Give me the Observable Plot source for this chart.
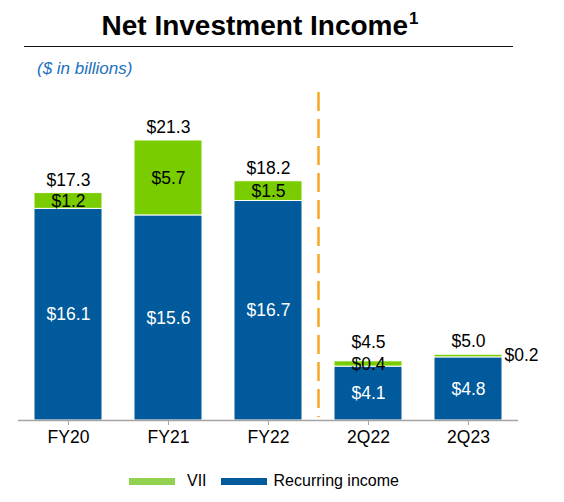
<!DOCTYPE html>
<html>
<head>
<meta charset="utf-8">
<script src="https://cdn.jsdelivr.net/npm/d3@7"></script>
<script src="https://cdn.jsdelivr.net/npm/@observablehq/plot@0.6"></script>
<style>
  body { margin: 0; background: white; font-family: "Liberation Sans", Arial, sans-serif; }
  #wrap { position: relative; width: 564px; height: 502px; }
  #titulo { position: absolute; left: 0; top: 12px; width: 520px; text-align: center;
            font-size: 28px; line-height: 28px; font-weight: bold; color: #000; }
  #titulo span { font-size: 17px; position: relative; top: -11px; margin-left: 1px; }
  #raya { position: absolute; left: 24px; top: 46px; width: 489px; border-top: 1.5px solid #111; }
  #sub { position: absolute; left: 37px; top: 60px; font-size: 17px; line-height: 17px;
         font-style: italic; color: #1b70bd; }
  #grafico { position: absolute; left: 0; top: 80px; }
  #leyenda { position: absolute; left: 129px; top: 472px; height: 18px; display: flex;
             align-items: center; font-size: 16px; color: #000; }
  .sw { width: 46px; height: 7px; display: inline-block; }
</style>
</head>
<body>
<div id="wrap">
  <div id="titulo">Net Investment Income<span>1</span></div>
  <div id="raya"></div>
  <div id="sub">($ in billions)</div>
  <div id="grafico"></div>
  <div id="leyenda">
    <span class="sw" style="background:#92d050"></span><span style="margin-left:12px">VII</span>
    <span class="sw" style="background:#005a9b;margin-left:14px"></span><span style="margin-left:7px">Recurring income</span>
  </div>
</div>
<script>
// datos (en miles de millones)
const categorias = ["FY20", "FY21", "FY22", "2Q22", "2Q23"]
const recurrente = [16.1, 15.6, 16.7, 4.1, 4.8]
const vii = [1.2, 5.7, 1.5, 0.4, 0.2]
const totales = [17.3, 21.3, 18.2, 4.5, 5.0]
const series = ["Recurring income", "VII"]

// tabla larga para apilar: primero recurrente (abajo), despues VII (arriba)
const filas = categorias.flatMap((c, i) => [
  {cat: c, serie: series[0], valor: recurrente[i]},
  {cat: c, serie: series[1], valor: vii[i]}
])
const tot = categorias.map((c, i) => ({cat: c, valor: totales[i]}))

const fmt = v => "$" + v.toFixed(1)
const fuente = "Liberation Sans, Arial, sans-serif"

let grafico = Plot.plot({
  width: 564,
  height: 380,
  marginTop: 60,
  marginBottom: 40,
  marginLeft: 18,
  marginRight: 46,
  style: {fontFamily: fuente, background: "transparent"},
  x: {domain: categorias, paddingInner: 0.32, paddingOuter: 0.16},
  y: {domain: [0, 21.3], axis: null},
  color: {domain: series, range: ["#005a9b", "#78cc00"]},
  marks: [
    Plot.barY(filas, {x: "cat", y: "valor", fill: "serie", stroke: "white", strokeWidth: 1}),
    Plot.ruleY([0], {stroke: "#a5a5a5", strokeWidth: 1.5}),
    Plot.axisX({tickSize: 5, tickPadding: 5, fontSize: 17.5, stroke: "#a5a5a5", fill: "black", label: null}),
    // linea punteada que separa anuales de trimestrales
    Plot.ruleX(["FY22"], {x: d => d, dx: 50, stroke: "#f7a823", strokeWidth: 2.5,
      strokeDasharray: "19 8", insetTop: -48, insetBottom: 3}),
    // etiquetas dentro de las barras azules
    Plot.text(filas, Plot.filter(d => d.serie === series[0],
      Plot.stackY({x: "cat", y: "valor", z: "serie", text: d => fmt(d.valor), fill: "white", fontSize: 17.5}))),
    // etiquetas VII dentro de la barra verde
    Plot.text(filas, Plot.filter(d => d.serie === series[1] && d.valor >= 0.3,
      Plot.stackY({x: "cat", y: "valor", z: "serie", text: d => fmt(d.valor), fill: "black", fontSize: 17.5}))),
    // VII muy chico: al costado
    Plot.text(filas, Plot.filter(d => d.serie === series[1] && d.valor < 0.3,
      Plot.stackY2({x: "cat", y: "valor", z: "serie", text: d => fmt(d.valor), fill: "black", fontSize: 17.5,
        textAnchor: "start", dx: 36, dy: 1}))),
    // totales arriba
    Plot.text(tot, {x: "cat", y: "valor", text: d => fmt(d.valor), fill: "black", fontSize: 17.5,
      dy: -13, filter: d => d.cat !== "2Q22"}),
    Plot.text(tot, {x: "cat", y: "valor", text: d => fmt(d.valor), fill: "black", fontSize: 17.5,
      dy: -19, filter: d => d.cat === "2Q22"})
  ]
})

d3.select('#grafico').append(() => grafico)
</script>
</body>
</html>
